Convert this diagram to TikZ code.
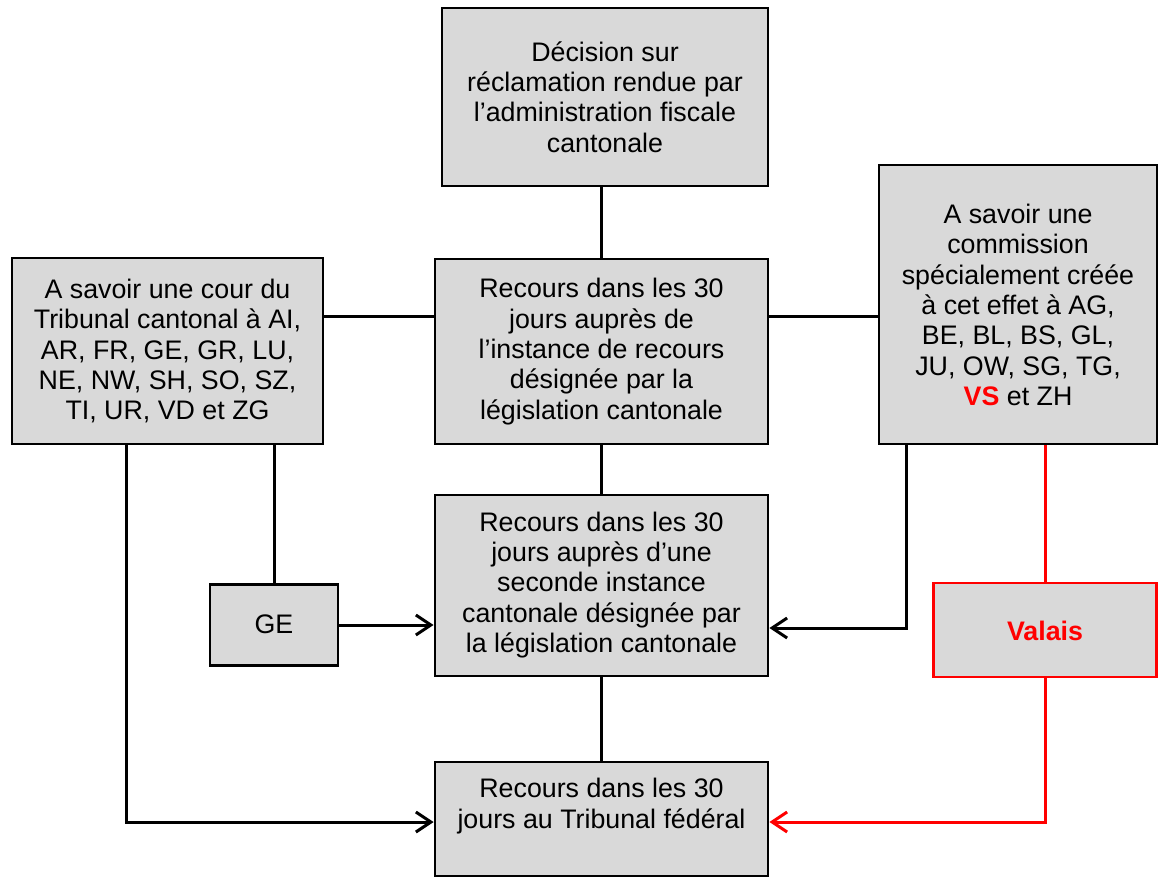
\documentclass[tikz,border=0pt]{standalone}
\usepackage{fontspec}
\setmainfont{Liberation Sans}
\usetikzlibrary{arrows.meta}
\definecolor{boxgray}{HTML}{D9D9D9}
\definecolor{vsred}{HTML}{FF0000}
\begin{document}
\begin{tikzpicture}[x=1pt,y=-1pt,
  box/.style={draw=black, fill=boxgray, line width=2.8pt, rectangle, inner sep=0pt},
  lbl/.style={align=center, font=\fontsize{26.8}{30.4}\selectfont, inner sep=0pt},
  conn/.style={line width=3pt, draw=black},
  redconn/.style={line width=3pt, draw=vsred},
  arr/.style={-{Straight Barb[length=15pt,width=20pt,line width=3pt]}}]
\useasboundingbox[fill=white] (0,0) rectangle (1166,878);

% boxes
\node[box, minimum width=326pt, minimum height=178pt] (top) at (605,97) {};
\node[lbl] (toptxt) at (605,97) {Décision sur\\réclamation rendue par\\l’administration fiscale\\cantonale};

\node[box, minimum width=333pt, minimum height=185pt] (mid) at (601.5,351.5) {};
\node[lbl] (midtxt) at (601.5,351.5) {Recours dans les 30\\jours auprès de\\l’instance de recours\\désignée par la\\législation cantonale};

\node[box, minimum width=311pt, minimum height=186pt] (left) at (167.5,351) {};
\node[lbl] (lefttxt) at (167.5,351) {A savoir une cour du\\Tribunal cantonal à AI,\\AR, FR, GE, GR, LU,\\NE, NW, SH, SO, SZ,\\TI, UR, VD et ZG};

\node[box, minimum width=278pt, minimum height=279pt] (right) at (1018,304.5) {};
\node[lbl] (righttxt) at (1018,305) {A savoir une\\commission\\spécialement créée\\à cet effet à AG,\\BE, BL, BS, GL,\\JU, OW, SG, TG,\\{\color{vsred}\bfseries VS} et ZH};

\node[box, minimum width=333pt, minimum height=181pt] (second) at (601.5,585.5) {};
\node[lbl] (secondtxt) at (601.5,585) {Recours dans les 30\\jours auprès d’une\\seconde instance\\cantonale désignée par\\la législation cantonale};

\node[box, minimum width=128pt, minimum height=81pt] (ge) at (274,625) {};
\node[lbl] (getxt) at (274,624) {GE};

\node[box, draw=vsred, minimum width=223pt, minimum height=94pt] (valais) at (1045,630) {};
\node[lbl, text=vsred, font=\fontsize{26.8}{30.4}\selectfont\bfseries] (valaistxt) at (1045,631) {Valais};

\node[box, minimum width=333pt, minimum height=114pt] (bottom) at (601.5,819) {};
\node[lbl] (bottomtxt) at (601.5,806) {Recours dans les 30\\jours au Tribunal fédéral};

% helper coordinates
\coordinate (c1) at (126,822);
\coordinate (c2) at (906,628);
\coordinate (c3) at (1045,822);

% connectors
\draw[conn] (top.south -| mid.north) -- (mid.north);
\draw[conn] (mid.south) -- (second.north);
\draw[conn] (second.south) -- (bottom.north);
\draw[conn] (left.east |- 0,316) -- (mid.west |- 0,316);
\draw[conn] (mid.east |- 0,316) -- (right.west |- 0,316);
\draw[conn] (left.south -| ge.north) -- (ge.north);
\draw[conn, arr] (ge.east) -- (ge.east -| second.west);
\draw[conn, arr] (right.south -| c2) -- (c2) -- (c2 -| second.east);
\draw[conn, arr] (left.south -| c1) -- (c1) -- (c1 -| bottom.west);
\draw[redconn] (right.south -| valais.north) -- (valais.north);
\draw[redconn, arr] (valais.south) -- (c3) -- (c3 -| bottom.east);
\end{tikzpicture}
\end{document}
